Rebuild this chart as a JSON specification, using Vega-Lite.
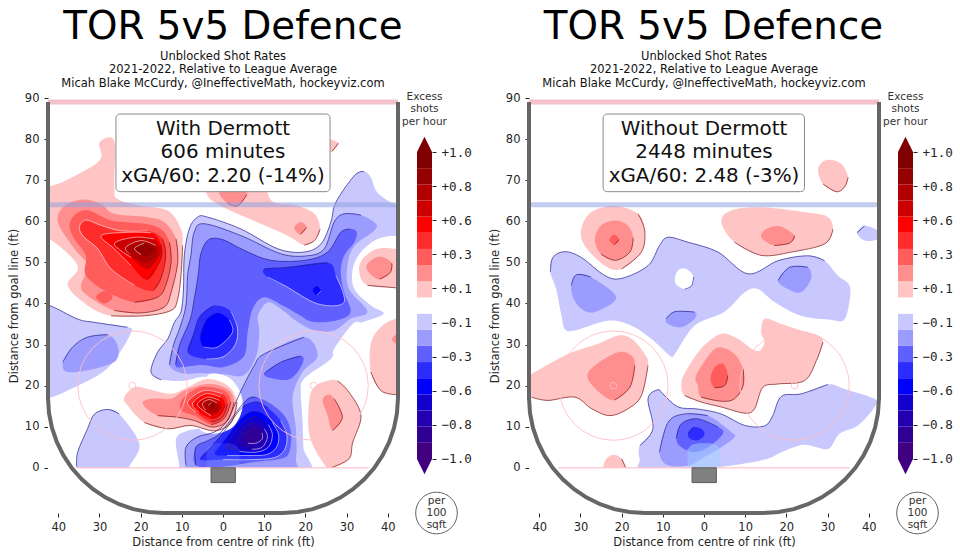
{"$schema":"https://vega.github.io/schema/vega-lite/v6.json","background":"white","padding":{"left":8,"top":7,"right":0,"bottom":0},"bounds":"flush","spacing":19,"config":{"view":{"stroke":null},"font":"DejaVu Sans","axis":{"grid":false,"domain":false,"tickColor":"#262626","tickSize":4,"labelColor":"#262626","titleColor":"#262626","labelFontSize":11.5,"titleFontSize":11.5,"titleFontWeight":"normal","labelFont":"DejaVu Sans","titleFont":"DejaVu Sans"}},
"datasets":{
"w":[
{"g":1,"l":-1,"x":-15,"y":21.4,"e":1},{"g":1,"l":-1,"x":-17.5,"y":23.3,"e":1},{"g":1,"l":-1,"x":-15.9,"y":28.1,"e":1},{"g":1,"l":-1,"x":-13.4,"y":31.4,"e":1},{"g":1,"l":-1,"x":-11.8,"y":35.4,"e":1},{"g":1,"l":-1,"x":-10.2,"y":38,"e":1},{"g":1,"l":-1,"x":-9.6,"y":43.5,"e":1},{"g":1,"l":-1,"x":-9.4,"y":51.6,"e":1},{"g":1,"l":-1,"x":-8.2,"y":58.1,"e":1},{"g":1,"l":-1,"x":-6.2,"y":61,"e":1},{"g":1,"l":-1,"x":-3.7,"y":61,"e":1},{"g":1,"l":-1,"x":4.4,"y":58.1,"e":1},{"g":1,"l":-1,"x":13.3,"y":53.3,"e":1},{"g":1,"l":-1,"x":19.7,"y":52.5,"e":1},{"g":1,"l":-1,"x":23.8,"y":54.5,"e":1},{"g":1,"l":-1,"x":26.2,"y":59.8,"e":1},{"g":1,"l":-1,"x":27.4,"y":64.6,"e":1},{"g":1,"l":-1,"x":31.9,"y":71.1,"e":1},{"g":1,"l":-1,"x":34.3,"y":72.1,"e":1},{"g":1,"l":-1,"x":35.9,"y":70.7},{"g":1,"l":-1,"x":37.5,"y":67},{"g":1,"l":-1,"x":41.6,"y":64.2},{"g":1,"l":-1,"x":46,"y":63},{"g":1,"l":-1,"x":46,"y":56.5},{"g":1,"l":-1,"x":42,"y":56.5},{"g":1,"l":-1,"x":37.5,"y":55.7},{"g":1,"l":-1,"x":33.5,"y":52.5},{"g":1,"l":-1,"x":31.5,"y":48.4},{"g":1,"l":-1,"x":31.9,"y":43.5},{"g":1,"l":-1,"x":35.9,"y":39.5},{"g":1,"l":-1,"x":39,"y":37.5},{"g":1,"l":-1,"x":34,"y":35.5},{"g":1,"l":-1,"x":31.5,"y":35},{"g":1,"l":-1,"x":27,"y":29},{"g":1,"l":-1,"x":26.2,"y":26.5},{"g":1,"l":-1,"x":19.7,"y":21.7},{"g":1,"l":-1,"x":18.9,"y":18.4},{"g":1,"l":-1,"x":19.3,"y":12},{"g":1,"l":-1,"x":19.5,"y":5},{"g":1,"l":-1,"x":19.5,"y":-2},{"g":1,"l":-1,"x":-10.6,"y":-2},{"g":1,"l":-1,"x":-10.6,"y":0.6},{"g":1,"l":-1,"x":-11.4,"y":7},{"g":1,"l":-1,"x":-8.6,"y":9},{"g":1,"l":-1,"x":-5,"y":9.8},{"g":1,"l":-1,"x":-1,"y":12},{"g":1,"l":-1,"x":0,"y":18},{"g":1,"l":-1,"x":-3.7,"y":22},{"g":1,"l":-1,"x":-9.4,"y":21.2},
{"g":2,"l":-1,"x":-46,"y":39.5,"e":1},{"g":2,"l":-1,"x":-42.2,"y":39.5,"e":1},{"g":2,"l":-1,"x":-35.3,"y":36.2,"e":1},{"g":2,"l":-1,"x":-31.2,"y":35.4,"e":1},{"g":2,"l":-1,"x":-23.2,"y":34.2,"e":1},{"g":2,"l":-1,"x":-22.3,"y":33},{"g":2,"l":-1,"x":-25.6,"y":27.3},{"g":2,"l":-1,"x":-29.6,"y":23},{"g":2,"l":-1,"x":-37.7,"y":18.8},{"g":2,"l":-1,"x":-42.2,"y":17},{"g":2,"l":-1,"x":-46,"y":17},
{"g":3,"l":-1,"x":-35.5,"y":0.2,"e":1},{"g":3,"l":-1,"x":-35.3,"y":3.8,"e":1},{"g":3,"l":-1,"x":-32.9,"y":9.5,"e":1},{"g":3,"l":-1,"x":-31.2,"y":13.1,"e":1},{"g":3,"l":-1,"x":-28,"y":14.2,"e":1},{"g":3,"l":-1,"x":-25.2,"y":13.1,"e":1},{"g":3,"l":-1,"x":-20.3,"y":5.8},{"g":3,"l":-1,"x":-22.8,"y":0.2},{"g":3,"l":-1,"x":-22.8,"y":-2},{"g":3,"l":-1,"x":-35.5,"y":-2},
{"g":4,"l":-2,"x":-38.9,"y":25.7,"e":1},{"g":4,"l":-2,"x":-36.5,"y":29.4,"e":1},{"g":4,"l":-2,"x":-32.9,"y":31.8,"e":1},{"g":4,"l":-2,"x":-28,"y":32.4,"e":1},{"g":4,"l":-2,"x":-25.6,"y":29.8},{"g":4,"l":-2,"x":-26,"y":26.1},{"g":4,"l":-2,"x":-31.2,"y":24.1},{"g":4,"l":-2,"x":-37.7,"y":23.3},
{"g":5,"l":-2,"x":-13,"y":25,"e":1},{"g":5,"l":-2,"x":-12,"y":30,"e":1},{"g":5,"l":-2,"x":-10.5,"y":34,"e":1},{"g":5,"l":-2,"x":-9,"y":39.5,"e":1},{"g":5,"l":-2,"x":-8.6,"y":46.8,"e":1},{"g":5,"l":-2,"x":-7.8,"y":51.6,"e":1},{"g":5,"l":-2,"x":-7,"y":57.3,"e":1},{"g":5,"l":-2,"x":-4.6,"y":59.4,"e":1},{"g":5,"l":-2,"x":4.4,"y":56.5,"e":1},{"g":5,"l":-2,"x":14,"y":52.1,"e":1},{"g":5,"l":-2,"x":20.5,"y":51.6,"e":1},{"g":5,"l":-2,"x":24.6,"y":53.3,"e":1},{"g":5,"l":-2,"x":27,"y":59.8,"e":1},{"g":5,"l":-2,"x":29.4,"y":61.8,"e":1},{"g":5,"l":-2,"x":33.5,"y":61.5,"e":1},{"g":5,"l":-2,"x":37.1,"y":59.4},{"g":5,"l":-2,"x":36.7,"y":57.7},{"g":5,"l":-2,"x":31.9,"y":54},{"g":5,"l":-2,"x":30.2,"y":49.2},{"g":5,"l":-2,"x":30.6,"y":43.5},{"g":5,"l":-2,"x":35.1,"y":38},{"g":5,"l":-2,"x":31,"y":36.25},{"g":5,"l":-2,"x":27,"y":33.4},{"g":5,"l":-2,"x":22.2,"y":33.4},{"g":5,"l":-2,"x":17.7,"y":35.8},{"g":5,"l":-2,"x":15,"y":38},{"g":5,"l":-2,"x":11,"y":40.3},{"g":5,"l":-2,"x":8.5,"y":37},{"g":5,"l":-2,"x":8.8,"y":33},{"g":5,"l":-2,"x":8,"y":27},{"g":5,"l":-2,"x":5,"y":22.5},{"g":5,"l":-2,"x":0,"y":22.8},{"g":5,"l":-2,"x":-5,"y":23},{"g":5,"l":-2,"x":-10,"y":23},
{"g":6,"l":-2,"x":-9,"y":0.6,"e":1},{"g":6,"l":-2,"x":-9,"y":5,"e":1},{"g":6,"l":-2,"x":-6.2,"y":7.5,"e":1},{"g":6,"l":-2,"x":-2.1,"y":8.7,"e":1},{"g":6,"l":-2,"x":1,"y":11.5,"e":1},{"g":6,"l":-2,"x":4.4,"y":18.8,"e":1},{"g":6,"l":-2,"x":7.6,"y":24.9,"e":1},{"g":6,"l":-2,"x":10,"y":27.7,"e":1},{"g":6,"l":-2,"x":19.7,"y":31.8,"e":1},{"g":6,"l":-2,"x":23,"y":27.3},{"g":6,"l":-2,"x":19.3,"y":23.3},{"g":6,"l":-2,"x":16.9,"y":17.2},{"g":6,"l":-2,"x":17.7,"y":9.5},{"g":6,"l":-2,"x":17.7,"y":2.2},{"g":6,"l":-2,"x":15.7,"y":-1},{"g":6,"l":-2,"x":-9,"y":-1},
{"g":7,"l":-3,"x":-11.5,"y":25,"e":1},{"g":7,"l":-3,"x":-10.5,"y":30,"e":1},{"g":7,"l":-3,"x":-8,"y":36,"e":1},{"g":7,"l":-3,"x":-7,"y":41,"e":1},{"g":7,"l":-3,"x":-6,"y":47,"e":1},{"g":7,"l":-3,"x":-5.4,"y":52,"e":1},{"g":7,"l":-3,"x":-3.5,"y":55.5,"e":1},{"g":7,"l":-3,"x":0,"y":55.5,"e":1},{"g":7,"l":-3,"x":5,"y":53,"e":1},{"g":7,"l":-3,"x":11.6,"y":50.5,"e":1},{"g":7,"l":-3,"x":20,"y":50.5,"e":1},{"g":7,"l":-3,"x":25.4,"y":52.5,"e":1},{"g":7,"l":-3,"x":28.6,"y":57.3,"e":1},{"g":7,"l":-3,"x":31,"y":58.1,"e":1},{"g":7,"l":-3,"x":32.5,"y":57.3},{"g":7,"l":-3,"x":31.9,"y":54.9},{"g":7,"l":-3,"x":29.4,"y":51.6},{"g":7,"l":-3,"x":28.6,"y":47.6},{"g":7,"l":-3,"x":29.4,"y":42.7},{"g":7,"l":-3,"x":31,"y":38},{"g":7,"l":-3,"x":28,"y":36},{"g":7,"l":-3,"x":22,"y":35.5},{"g":7,"l":-3,"x":18,"y":37.5},{"g":7,"l":-3,"x":14.5,"y":39.5},{"g":7,"l":-3,"x":10,"y":41.5},{"g":7,"l":-3,"x":7.2,"y":38.7},{"g":7,"l":-3,"x":6,"y":33},{"g":7,"l":-3,"x":5,"y":27},{"g":7,"l":-3,"x":0,"y":24.5},{"g":7,"l":-3,"x":-5,"y":25},{"g":7,"l":-3,"x":-10,"y":24.5},
{"g":8,"l":-3,"x":10,"y":22.9,"e":1},{"g":8,"l":-3,"x":14,"y":25.7,"e":1},{"g":8,"l":-3,"x":18.9,"y":27.2,"e":1},{"g":8,"l":-3,"x":19.3,"y":25.3},{"g":8,"l":-3,"x":16.5,"y":21.7},{"g":8,"l":-3,"x":12.4,"y":21.7},
{"g":9,"l":-3,"x":-6.6,"y":0.6,"e":1},{"g":9,"l":-3,"x":-6.6,"y":5,"e":1},{"g":9,"l":-3,"x":-3.7,"y":6.6,"e":1},{"g":9,"l":-3,"x":-0.5,"y":8.7,"e":1},{"g":9,"l":-3,"x":5.6,"y":16.4,"e":1},{"g":9,"l":-3,"x":8.4,"y":17,"e":1},{"g":9,"l":-3,"x":11.6,"y":15.6},{"g":9,"l":-3,"x":14.9,"y":12.7},{"g":9,"l":-3,"x":16.5,"y":8.7},{"g":9,"l":-3,"x":16.1,"y":3.8},{"g":9,"l":-3,"x":14,"y":2.2},{"g":9,"l":-3,"x":7.6,"y":1.4},{"g":9,"l":-3,"x":-0.5,"y":0.2},
{"g":10,"l":-4,"x":10,"y":48.4,"e":1},{"g":10,"l":-4,"x":15.7,"y":48.8,"e":1},{"g":10,"l":-4,"x":25.4,"y":49.9,"e":1},{"g":10,"l":-4,"x":27.4,"y":46.8},{"g":10,"l":-4,"x":29.4,"y":40.3},{"g":10,"l":-4,"x":23,"y":39.9},{"g":10,"l":-4,"x":14.9,"y":44.4},{"g":10,"l":-4,"x":10.8,"y":46.4},
{"g":11,"l":-4,"x":-8.5,"y":28,"e":1},{"g":11,"l":-4,"x":-7,"y":33,"e":1},{"g":11,"l":-4,"x":-5.5,"y":37,"e":1},{"g":11,"l":-4,"x":-2,"y":39.5,"e":1},{"g":11,"l":-4,"x":2,"y":38},{"g":11,"l":-4,"x":3.5,"y":34},{"g":11,"l":-4,"x":3,"y":30},{"g":11,"l":-4,"x":0,"y":27},{"g":11,"l":-4,"x":-4,"y":26.5},
{"g":12,"l":-4,"x":-5.5,"y":2,"e":1},{"g":12,"l":-4,"x":-3,"y":5,"e":1},{"g":12,"l":-4,"x":0,"y":8.5,"e":1},{"g":12,"l":-4,"x":4,"y":14,"e":1},{"g":12,"l":-4,"x":6,"y":15.5,"e":1},{"g":12,"l":-4,"x":8.5,"y":16,"e":1},{"g":12,"l":-4,"x":11,"y":14.5,"e":1},{"g":12,"l":-4,"x":14,"y":11.5},{"g":12,"l":-4,"x":15.5,"y":8},{"g":12,"l":-4,"x":15,"y":4.5},{"g":12,"l":-4,"x":12.5,"y":2.5},{"g":12,"l":-4,"x":7,"y":2},{"g":12,"l":-4,"x":0,"y":2},
{"g":13,"l":-5,"x":-5.5,"y":32,"e":1},{"g":13,"l":-5,"x":-4,"y":36,"e":1},{"g":13,"l":-5,"x":-1.3,"y":37.7,"e":1},{"g":13,"l":-5,"x":1.5,"y":36},{"g":13,"l":-5,"x":2.3,"y":33},{"g":13,"l":-5,"x":-1.3,"y":29.4},{"g":13,"l":-5,"x":-4.6,"y":29.4},
{"g":14,"l":-5,"x":21.8,"y":43.2,"e":1},{"g":14,"l":-5,"x":22.8,"y":44.2,"e":1},{"g":14,"l":-5,"x":23.8,"y":43},{"g":14,"l":-5,"x":22.8,"y":42},
{"g":15,"l":-5,"x":-2,"y":3.5,"e":1},{"g":15,"l":-5,"x":1,"y":7.5,"e":1},{"g":15,"l":-5,"x":4,"y":11.5,"e":1},{"g":15,"l":-5,"x":6.5,"y":13.5,"e":1},{"g":15,"l":-5,"x":9,"y":13.5,"e":1},{"g":15,"l":-5,"x":12,"y":11},{"g":15,"l":-5,"x":13.5,"y":8},{"g":15,"l":-5,"x":13,"y":5},{"g":15,"l":-5,"x":10.5,"y":3.2},{"g":15,"l":-5,"x":6,"y":3},{"g":15,"l":-5,"x":1,"y":3},
{"g":16,"l":-6,"x":0.5,"y":5,"e":1},{"g":16,"l":-6,"x":3,"y":9,"e":1},{"g":16,"l":-6,"x":5.5,"y":11.5,"e":1},{"g":16,"l":-6,"x":8,"y":12.5,"e":1},{"g":16,"l":-6,"x":11,"y":10.5},{"g":16,"l":-6,"x":12,"y":8},{"g":16,"l":-6,"x":11,"y":5},{"g":16,"l":-6,"x":8,"y":3.8},{"g":16,"l":-6,"x":4,"y":4},
{"g":17,"l":-7,"x":3.5,"y":6,"e":1},{"g":17,"l":-7,"x":5,"y":9.5,"e":1},{"g":17,"l":-7,"x":7.5,"y":11,"e":1},{"g":17,"l":-7,"x":10,"y":9.5},{"g":17,"l":-7,"x":10.8,"y":7.5},{"g":17,"l":-7,"x":9.5,"y":5},{"g":17,"l":-7,"x":7,"y":4.5},
{"g":18,"l":-8,"x":5,"y":7.5,"e":1},{"g":18,"l":-8,"x":6.5,"y":9.5,"e":1},{"g":18,"l":-8,"x":8,"y":9.8,"e":1},{"g":18,"l":-8,"x":9.5,"y":8.5},{"g":18,"l":-8,"x":9.5,"y":7},{"g":18,"l":-8,"x":8,"y":6},{"g":18,"l":-8,"x":6,"y":6},
{"g":19,"l":0,"x":-3.7,"y":22.5},{"g":19,"l":0,"x":1.9,"y":21.6},{"g":19,"l":0,"x":4.8,"y":16},{"g":19,"l":0,"x":2.8,"y":10.3},{"g":19,"l":0,"x":-2.1,"y":8.3},{"g":19,"l":0,"x":-6,"y":10},{"g":19,"l":0,"x":-4,"y":16},
{"g":20,"l":1,"x":-9.8,"y":54.1,"e":1},{"g":20,"l":1,"x":-10.2,"y":46.8,"e":1},{"g":20,"l":1,"x":-11,"y":41.1,"e":1},{"g":20,"l":1,"x":-12.6,"y":38.3,"e":1},{"g":20,"l":1,"x":-19.1,"y":37,"e":1},{"g":20,"l":1,"x":-27.2,"y":37,"e":1},{"g":20,"l":1,"x":-32.9,"y":39.5},{"g":20,"l":1,"x":-37.7,"y":44.4},{"g":20,"l":1,"x":-35.3,"y":49.2},{"g":20,"l":1,"x":-42.2,"y":55.7},{"g":20,"l":1,"x":-46,"y":55},{"g":20,"l":1,"x":-46,"y":66},{"g":20,"l":1,"x":-38,"y":70},{"g":20,"l":1,"x":-30,"y":74.8},{"g":20,"l":1,"x":-30,"y":79.2},{"g":20,"l":1,"x":-26.4,"y":79.6},{"g":20,"l":1,"x":-26.4,"y":68.7},{"g":20,"l":1,"x":-25.6,"y":65.4},{"g":20,"l":1,"x":-19.9,"y":63.8},{"g":20,"l":1,"x":-13.4,"y":62.6},{"g":20,"l":1,"x":-10.2,"y":58.1},
{"g":21,"l":1,"x":23.6,"y":58.1,"e":1},{"g":21,"l":1,"x":22.2,"y":55.3,"e":1},{"g":21,"l":1,"x":19.7,"y":54.2,"e":1},{"g":21,"l":1,"x":15.7,"y":56.5},{"g":21,"l":1,"x":9.2,"y":59.4},{"g":21,"l":1,"x":3.5,"y":61.8},{"g":21,"l":1,"x":-2.1,"y":64.6},{"g":21,"l":1,"x":-4.1,"y":67},{"g":21,"l":1,"x":-4,"y":70},{"g":21,"l":1,"x":10,"y":70},{"g":21,"l":1,"x":10.8,"y":67},{"g":21,"l":1,"x":12.4,"y":64.6},{"g":21,"l":1,"x":18,"y":63.8},{"g":21,"l":1,"x":22.2,"y":61.8},
{"g":22,"l":1,"x":28,"y":79,"e":1},{"g":22,"l":1,"x":26.5,"y":77,"e":1},{"g":22,"l":1,"x":25,"y":76.5},{"g":22,"l":1,"x":25,"y":80},
{"g":23,"l":1,"x":33.9,"y":50.8},{"g":23,"l":1,"x":33.1,"y":47.6},{"g":23,"l":1,"x":35.1,"y":44.4,"e":1},{"g":23,"l":1,"x":42,"y":43.8,"e":1},{"g":23,"l":1,"x":46,"y":44},{"g":23,"l":1,"x":46,"y":53},{"g":23,"l":1,"x":42,"y":53.3},{"g":23,"l":1,"x":37.5,"y":53.3},
{"g":24,"l":1,"x":42,"y":36.25},{"g":24,"l":1,"x":38.3,"y":34.2},{"g":24,"l":1,"x":35.9,"y":30.2},{"g":24,"l":1,"x":35.9,"y":23.3,"e":1},{"g":24,"l":1,"x":38.3,"y":18.8,"e":1},{"g":24,"l":1,"x":42,"y":17.8,"e":1},{"g":24,"l":1,"x":46,"y":18},{"g":24,"l":1,"x":46,"y":36},
{"g":25,"l":1,"x":27.8,"y":21.2,"e":1},{"g":25,"l":1,"x":30.6,"y":18.4,"e":1},{"g":25,"l":1,"x":33.5,"y":12.7,"e":1},{"g":25,"l":1,"x":31.5,"y":6.2,"e":1},{"g":25,"l":1,"x":30.6,"y":2.2,"e":1},{"g":25,"l":1,"x":26.2,"y":0,"e":1},{"g":25,"l":1,"x":24.2,"y":1.4},{"g":25,"l":1,"x":21,"y":7.9},{"g":25,"l":1,"x":21,"y":16.8},{"g":25,"l":1,"x":22.6,"y":20},{"g":25,"l":1,"x":25.4,"y":21.2},
{"g":26,"l":1,"x":3.4,"y":16,"e":1},{"g":26,"l":1,"x":2,"y":11,"e":1},{"g":26,"l":1,"x":-2.1,"y":9,"e":1},{"g":26,"l":1,"x":-7.8,"y":10.3,"e":1},{"g":26,"l":1,"x":-13.4,"y":9.5,"e":1},{"g":26,"l":1,"x":-19.1,"y":11,"e":1},{"g":26,"l":1,"x":-23.2,"y":15.2},{"g":26,"l":1,"x":-24,"y":17.2},{"g":26,"l":1,"x":-21.5,"y":19.6},{"g":26,"l":1,"x":-18.3,"y":19.2},{"g":26,"l":1,"x":-12.6,"y":18},{"g":26,"l":1,"x":-8.6,"y":19.6},{"g":26,"l":1,"x":-3.7,"y":21.6},{"g":26,"l":1,"x":1.1,"y":20},
{"g":27,"l":2,"x":-11.4,"y":55.7,"e":1},{"g":27,"l":2,"x":-11,"y":50,"e":1},{"g":27,"l":2,"x":-12.6,"y":42.7,"e":1},{"g":27,"l":2,"x":-14.3,"y":39.1,"e":1},{"g":27,"l":2,"x":-19.9,"y":37.7,"e":1},{"g":27,"l":2,"x":-26.4,"y":38.3,"e":1},{"g":27,"l":2,"x":-32.9,"y":41.9},{"g":27,"l":2,"x":-34.5,"y":44.4},{"g":27,"l":2,"x":-32.9,"y":49.2},{"g":27,"l":2,"x":-36.1,"y":53.3},{"g":27,"l":2,"x":-40.1,"y":59.8},{"g":27,"l":2,"x":-38.5,"y":63.8},{"g":27,"l":2,"x":-33.7,"y":65.3},{"g":27,"l":2,"x":-29.6,"y":64.2},{"g":27,"l":2,"x":-26.4,"y":61.8},{"g":27,"l":2,"x":-18.3,"y":61},{"g":27,"l":2,"x":-14.3,"y":59.8},
{"g":28,"l":2,"x":5.8,"y":66.5,"e":1},{"g":28,"l":2,"x":3.5,"y":63.7,"e":1},{"g":28,"l":2,"x":1,"y":64.5,"e":1},{"g":28,"l":2,"x":-1,"y":67},{"g":28,"l":2,"x":0,"y":69},{"g":28,"l":2,"x":5,"y":69},
{"g":29,"l":2,"x":20.3,"y":58.5,"e":1},{"g":29,"l":2,"x":18.8,"y":56.8,"e":1},{"g":29,"l":2,"x":17.3,"y":58.3},{"g":29,"l":2,"x":18.8,"y":59.8},
{"g":30,"l":2,"x":41,"y":49.8,"e":1},{"g":30,"l":2,"x":40.6,"y":47.5,"e":1},{"g":30,"l":2,"x":38,"y":45.9,"e":1},{"g":30,"l":2,"x":35.5,"y":47.5},{"g":30,"l":2,"x":35,"y":49.5},{"g":30,"l":2,"x":38,"y":51.4},
{"g":31,"l":2,"x":41,"y":31.2},{"g":31,"l":2,"x":43,"y":33},{"g":31,"l":2,"x":43,"y":30},
{"g":32,"l":2,"x":27,"y":16.8,"e":1},{"g":32,"l":2,"x":29,"y":12.3,"e":1},{"g":32,"l":2,"x":26.6,"y":9.1,"e":1},{"g":32,"l":2,"x":25.4,"y":12.7},{"g":32,"l":2,"x":24.2,"y":16.4},{"g":32,"l":2,"x":25.4,"y":17.8},
{"g":33,"l":2,"x":2.7,"y":16,"e":1},{"g":33,"l":2,"x":1.1,"y":11.5,"e":1},{"g":33,"l":2,"x":-2.5,"y":9.9,"e":1},{"g":33,"l":2,"x":-7,"y":11.5,"e":1},{"g":33,"l":2,"x":-11,"y":12.3,"e":1},{"g":33,"l":2,"x":-15.9,"y":12.7,"e":1},{"g":33,"l":2,"x":-19.5,"y":15.6},{"g":33,"l":2,"x":-17.5,"y":16.8},{"g":33,"l":2,"x":-12.6,"y":16.8},{"g":33,"l":2,"x":-9.4,"y":18.8},{"g":33,"l":2,"x":-3.7,"y":20.4},{"g":33,"l":2,"x":1.1,"y":19.2},
{"g":34,"l":3,"x":-13,"y":54.9,"e":1},{"g":34,"l":3,"x":-12.6,"y":50,"e":1},{"g":34,"l":3,"x":-13.9,"y":44.4,"e":1},{"g":34,"l":3,"x":-15.9,"y":41.5,"e":1},{"g":34,"l":3,"x":-21.5,"y":40.3,"e":1},{"g":34,"l":3,"x":-28,"y":42.7},{"g":34,"l":3,"x":-33.3,"y":46.8},{"g":34,"l":3,"x":-33.3,"y":51.6},{"g":34,"l":3,"x":-36.1,"y":55.7},{"g":34,"l":3,"x":-37.3,"y":59},{"g":34,"l":3,"x":-35.7,"y":61.8},{"g":34,"l":3,"x":-32.5,"y":62.6},{"g":34,"l":3,"x":-27.2,"y":60.2},{"g":34,"l":3,"x":-19.1,"y":59.4},{"g":34,"l":3,"x":-15.1,"y":58.1},
{"g":35,"l":3,"x":-26.8,"y":41.5,"e":1},{"g":35,"l":3,"x":-28.8,"y":40},{"g":35,"l":3,"x":-30.8,"y":41.5},{"g":35,"l":3,"x":-28.8,"y":43},
{"g":36,"l":3,"x":1.9,"y":16,"e":1},{"g":36,"l":3,"x":0.3,"y":12,"e":1},{"g":36,"l":3,"x":-2.9,"y":10.5,"e":1},{"g":36,"l":3,"x":-7,"y":12.7},{"g":36,"l":3,"x":-10.2,"y":14},{"g":36,"l":3,"x":-9.8,"y":16.8},{"g":36,"l":3,"x":-5.4,"y":19.6},{"g":36,"l":3,"x":0.3,"y":18.8},
{"g":37,"l":4,"x":-14.7,"y":55.7,"e":1},{"g":37,"l":4,"x":-13.9,"y":51.6,"e":1},{"g":37,"l":4,"x":-15.1,"y":46,"e":1},{"g":37,"l":4,"x":-17.1,"y":43.1,"e":1},{"g":37,"l":4,"x":-21.5,"y":44.4},{"g":37,"l":4,"x":-27.2,"y":48.4},{"g":37,"l":4,"x":-30.4,"y":53.3},{"g":37,"l":4,"x":-33.7,"y":56.1},{"g":37,"l":4,"x":-34.9,"y":58.5},{"g":37,"l":4,"x":-33.3,"y":60.3},{"g":37,"l":4,"x":-29.6,"y":59},{"g":37,"l":4,"x":-24.8,"y":57.7},{"g":37,"l":4,"x":-18.3,"y":57.7},
{"g":38,"l":4,"x":1.1,"y":15.6,"e":1},{"g":38,"l":4,"x":-0.1,"y":12.3,"e":1},{"g":38,"l":4,"x":-2.9,"y":11.1,"e":1},{"g":38,"l":4,"x":-6.6,"y":13.6},{"g":38,"l":4,"x":-8.6,"y":16},{"g":38,"l":4,"x":-4.6,"y":18.8},{"g":38,"l":4,"x":-0.1,"y":18},
{"g":39,"l":5,"x":-15.1,"y":54.5,"e":1},{"g":39,"l":5,"x":-15.1,"y":50.8,"e":1},{"g":39,"l":5,"x":-18.3,"y":45.8,"e":1},{"g":39,"l":5,"x":-22.3,"y":49.2},{"g":39,"l":5,"x":-26.4,"y":53.3},{"g":39,"l":5,"x":-29.6,"y":56.5},{"g":39,"l":5,"x":-23.2,"y":57.3},{"g":39,"l":5,"x":-17.5,"y":57.2},
{"g":40,"l":5,"x":0.5,"y":15.2,"e":1},{"g":40,"l":5,"x":-0.9,"y":12.7,"e":1},{"g":40,"l":5,"x":-2.9,"y":12,"e":1},{"g":40,"l":5,"x":-5.8,"y":13.5},{"g":40,"l":5,"x":-7.4,"y":15.6},{"g":40,"l":5,"x":-4.2,"y":18},{"g":40,"l":5,"x":-0.5,"y":17.2},
{"g":41,"l":6,"x":-15.2,"y":52.5,"e":1},{"g":41,"l":6,"x":-18.3,"y":48.4,"e":1},{"g":41,"l":6,"x":-22.3,"y":51.2},{"g":41,"l":6,"x":-26.4,"y":54.5},{"g":41,"l":6,"x":-21.5,"y":56.1},{"g":41,"l":6,"x":-16.7,"y":55.7},
{"g":42,"l":6,"x":-0.4,"y":14.8,"e":1},{"g":42,"l":6,"x":-1.7,"y":13.1,"e":1},{"g":42,"l":6,"x":-2.9,"y":12.7},{"g":42,"l":6,"x":-4.9,"y":14},{"g":42,"l":6,"x":-6.2,"y":15.6},{"g":42,"l":6,"x":-3.7,"y":17.2},{"g":42,"l":6,"x":-0.9,"y":16.4},
{"g":43,"l":7,"x":-16.3,"y":51.6,"e":1},{"g":43,"l":7,"x":-19.1,"y":50,"e":1},{"g":43,"l":7,"x":-22.7,"y":52},{"g":43,"l":7,"x":-23.6,"y":53.7},{"g":43,"l":7,"x":-19.9,"y":55.3},{"g":43,"l":7,"x":-16.3,"y":54.1},
{"g":44,"l":7,"x":-1,"y":14.6,"e":1},{"g":44,"l":7,"x":-2.4,"y":13.4,"e":1},{"g":44,"l":7,"x":-4.2,"y":14},{"g":44,"l":7,"x":-5,"y":15.6},{"g":44,"l":7,"x":-3.4,"y":16.6},{"g":44,"l":7,"x":-1.5,"y":15.8},
{"g":45,"l":8,"x":-16.8,"y":53.4,"e":1},{"g":45,"l":8,"x":-17.9,"y":51.6,"e":1},{"g":45,"l":8,"x":-19.9,"y":51.9},{"g":45,"l":8,"x":-21.5,"y":53.4},{"g":45,"l":8,"x":-19.1,"y":54.7},
{"g":46,"l":8,"x":-2,"y":15,"e":1},{"g":46,"l":8,"x":-2.7,"y":14.2,"e":1},{"g":46,"l":8,"x":-3.6,"y":15.2},{"g":46,"l":8,"x":-2.8,"y":15.9}
],
"o":[
{"g":1,"l":-1,"x":-37.3,"y":47.6,"e":1},{"g":1,"l":-1,"x":-36.7,"y":51.2,"e":1},{"g":1,"l":-1,"x":-33.8,"y":52.6,"e":1},{"g":1,"l":-1,"x":-29.8,"y":51.2,"e":1},{"g":1,"l":-1,"x":-24.1,"y":46.8,"e":1},{"g":1,"l":-1,"x":-20,"y":46.1,"e":1},{"g":1,"l":-1,"x":-13.6,"y":49.2,"e":1},{"g":1,"l":-1,"x":-10.8,"y":54.1,"e":1},{"g":1,"l":-1,"x":-8.7,"y":56.1,"e":1},{"g":1,"l":-1,"x":-3.9,"y":54.9,"e":1},{"g":1,"l":-1,"x":3.4,"y":52.5,"e":1},{"g":1,"l":-1,"x":10.7,"y":47.2,"e":1},{"g":1,"l":-1,"x":18,"y":50.4,"e":1},{"g":1,"l":-1,"x":25.2,"y":51.6,"e":1},{"g":1,"l":-1,"x":29.3,"y":50.4,"e":1},{"g":1,"l":-1,"x":32.5,"y":46.8},{"g":1,"l":-1,"x":35.3,"y":44.4},{"g":1,"l":-1,"x":35.3,"y":40.3},{"g":1,"l":-1,"x":34,"y":36},{"g":1,"l":-1,"x":31,"y":36},{"g":1,"l":-1,"x":23.6,"y":37},{"g":1,"l":-1,"x":17.2,"y":40.3},{"g":1,"l":-1,"x":13.1,"y":43.5},{"g":1,"l":-1,"x":9.9,"y":42.7},{"g":1,"l":-1,"x":5,"y":38},{"g":1,"l":-1,"x":-2.3,"y":34.6},{"g":1,"l":-1,"x":-7.1,"y":27.7},{"g":1,"l":-1,"x":-8.3,"y":27.3},{"g":1,"l":-1,"x":-12.8,"y":31.4},{"g":1,"l":-1,"x":-17.6,"y":34.6},{"g":1,"l":-1,"x":-23.3,"y":35.8},{"g":1,"l":-1,"x":-31.4,"y":33.4},{"g":1,"l":-1,"x":-33.8,"y":33.8},{"g":1,"l":-1,"x":-34.6,"y":37},{"g":1,"l":-1,"x":-35.9,"y":43.5},
{"g":2,"l":-1,"x":37.2,"y":57.2,"e":1},{"g":2,"l":-1,"x":39,"y":58.9,"e":1},{"g":2,"l":-1,"x":42.2,"y":57.7},{"g":2,"l":-1,"x":42.2,"y":55.7},{"g":2,"l":-1,"x":39,"y":55.3},
{"g":3,"l":-1,"x":-15.6,"y":5.4,"e":1},{"g":3,"l":-1,"x":-12.4,"y":9.5,"e":1},{"g":3,"l":-1,"x":-13.6,"y":16.8,"e":1},{"g":3,"l":-1,"x":-11.2,"y":19,"e":1},{"g":3,"l":-1,"x":-10,"y":18,"e":1},{"g":3,"l":-1,"x":-6.3,"y":14.8,"e":1},{"g":3,"l":-1,"x":-1.5,"y":14.3,"e":1},{"g":3,"l":-1,"x":4.2,"y":13.1,"e":1},{"g":3,"l":-1,"x":9.9,"y":10.3,"e":1},{"g":3,"l":-1,"x":14.7,"y":10.2,"e":1},{"g":3,"l":-1,"x":16.7,"y":12.7,"e":1},{"g":3,"l":-1,"x":18.8,"y":17.4,"e":1},{"g":3,"l":-1,"x":23.6,"y":18,"e":1},{"g":3,"l":-1,"x":30.1,"y":20.3,"e":1},{"g":3,"l":-1,"x":34.1,"y":19.2},{"g":3,"l":-1,"x":41.4,"y":16.8},{"g":3,"l":-1,"x":41.4,"y":14.8},{"g":3,"l":-1,"x":37.4,"y":10.3},{"g":3,"l":-1,"x":32.9,"y":8.3},{"g":3,"l":-1,"x":30.1,"y":4.6},{"g":3,"l":-1,"x":24.4,"y":5.6},{"g":3,"l":-1,"x":18.8,"y":3.8},{"g":3,"l":-1,"x":14.7,"y":2},{"g":3,"l":-1,"x":3.4,"y":0.2},{"g":3,"l":-1,"x":-14.5,"y":-1},{"g":3,"l":-1,"x":-15.6,"y":2},
{"g":4,"l":-2,"x":-32.2,"y":44.4,"e":1},{"g":4,"l":-2,"x":-31,"y":47,"e":1},{"g":4,"l":-2,"x":-27.4,"y":46.4,"e":1},{"g":4,"l":-2,"x":-21.3,"y":41.5},{"g":4,"l":-2,"x":-26.5,"y":37.9},{"g":4,"l":-2,"x":-29.8,"y":38.7},{"g":4,"l":-2,"x":-31.8,"y":41.5},
{"g":5,"l":-2,"x":-9.2,"y":36.2,"e":1},{"g":5,"l":-2,"x":-7.1,"y":38,"e":1},{"g":5,"l":-2,"x":-2.3,"y":37.9,"e":1},{"g":5,"l":-2,"x":-2.3,"y":36.2},{"g":5,"l":-2,"x":-5.5,"y":34.2},{"g":5,"l":-2,"x":-8.7,"y":35},
{"g":6,"l":-2,"x":18,"y":45.6,"e":1},{"g":6,"l":-2,"x":20.8,"y":48.8,"e":1},{"g":6,"l":-2,"x":25.2,"y":48.8,"e":1},{"g":6,"l":-2,"x":26,"y":46},{"g":6,"l":-2,"x":23.6,"y":42.7},{"g":6,"l":-2,"x":20.4,"y":43.5},
{"g":7,"l":-2,"x":-10.8,"y":3.8,"e":1},{"g":7,"l":-2,"x":-8.7,"y":11.1,"e":1},{"g":7,"l":-2,"x":-4.7,"y":13.1,"e":1},{"g":7,"l":-2,"x":0.9,"y":12.7,"e":1},{"g":7,"l":-2,"x":6.6,"y":8.7},{"g":7,"l":-2,"x":7.4,"y":7.5},{"g":7,"l":-2,"x":4.2,"y":5},{"g":7,"l":-2,"x":-0.65,"y":2.2},{"g":7,"l":-2,"x":-3.5,"y":0.6},{"g":7,"l":-2,"x":-8.7,"y":0.6},
{"g":8,"l":-3,"x":-6.7,"y":7.1,"e":1},{"g":8,"l":-3,"x":-5.5,"y":10.7,"e":1},{"g":8,"l":-3,"x":-1.5,"y":11.9,"e":1},{"g":8,"l":-3,"x":3.4,"y":9.9,"e":1},{"g":8,"l":-3,"x":4.6,"y":8.3},{"g":8,"l":-3,"x":1,"y":5},{"g":8,"l":-3,"x":-2.3,"y":3.8},{"g":8,"l":-3,"x":-5.5,"y":5},
{"g":9,"l":-4,"x":-3.9,"y":8.3,"e":1},{"g":9,"l":-4,"x":-2.5,"y":9.9,"e":1},{"g":9,"l":-4,"x":-0.5,"y":9.4},{"g":9,"l":-4,"x":0.1,"y":8},{"g":9,"l":-4,"x":-1.5,"y":6.7},{"g":9,"l":-4,"x":-3.3,"y":7},
{"g":10,"l":0,"x":-2.5,"y":46.5,"e":1},{"g":10,"l":0,"x":-3,"y":44.3,"e":1},{"g":10,"l":0,"x":-4.7,"y":43.5,"e":1},{"g":10,"l":0,"x":-7,"y":45},{"g":10,"l":0,"x":-6.5,"y":47.8},{"g":10,"l":0,"x":-4.5,"y":48.5},
{"g":11,"l":1,"x":-16,"y":61.8,"e":1},{"g":11,"l":1,"x":-14.4,"y":57.7,"e":1},{"g":11,"l":1,"x":-15.2,"y":52.5,"e":1},{"g":11,"l":1,"x":-20,"y":48.4,"e":1},{"g":11,"l":1,"x":-24.1,"y":49.2},{"g":11,"l":1,"x":-29,"y":54.1},{"g":11,"l":1,"x":-29.8,"y":58.1},{"g":11,"l":1,"x":-27.4,"y":62.2},{"g":11,"l":1,"x":-21.7,"y":63.7},
{"g":12,"l":1,"x":31.3,"y":58.1,"e":1},{"g":12,"l":1,"x":29.3,"y":54.5,"e":1},{"g":12,"l":1,"x":21.2,"y":52.5,"e":1},{"g":12,"l":1,"x":13.9,"y":51.7,"e":1},{"g":12,"l":1,"x":7.4,"y":54.9,"e":1},{"g":12,"l":1,"x":4.2,"y":59.8},{"g":12,"l":1,"x":6.6,"y":62.6},{"g":12,"l":1,"x":13.9,"y":63.4},{"g":12,"l":1,"x":26,"y":62},{"g":12,"l":1,"x":30.1,"y":61},
{"g":13,"l":1,"x":35,"y":70.7,"e":1},{"g":13,"l":1,"x":34.1,"y":68.3,"e":1},{"g":13,"l":1,"x":32.1,"y":67.2,"e":1},{"g":13,"l":1,"x":28.9,"y":69.1,"e":1},{"g":13,"l":1,"x":27.7,"y":72.7},{"g":13,"l":1,"x":29.7,"y":74.9},{"g":13,"l":1,"x":33.3,"y":74},
{"g":14,"l":1,"x":-20,"y":2.2,"e":1},{"g":14,"l":1,"x":-19,"y":0,"e":1},{"g":14,"l":1,"x":-19,"y":-2},{"g":14,"l":1,"x":-24.5,"y":-2},{"g":14,"l":1,"x":-24.5,"y":0.2},{"g":14,"l":1,"x":-23.7,"y":2.2},{"g":14,"l":1,"x":-21.9,"y":3.2},
{"g":15,"l":1,"x":-13.6,"y":24.9,"e":1},{"g":15,"l":1,"x":-15.2,"y":17.6,"e":1},{"g":15,"l":1,"x":-18.4,"y":14.4,"e":1},{"g":15,"l":1,"x":-22.9,"y":12.7,"e":1},{"g":15,"l":1,"x":-27.3,"y":14.4,"e":1},{"g":15,"l":1,"x":-31.4,"y":17.2,"e":1},{"g":15,"l":1,"x":-37.9,"y":16.4,"e":1},{"g":15,"l":1,"x":-41.9,"y":17.2,"e":1},{"g":15,"l":1,"x":-46,"y":17},{"g":15,"l":1,"x":-46,"y":21},{"g":15,"l":1,"x":-41.9,"y":22.9},{"g":15,"l":1,"x":-33,"y":27.7},{"g":15,"l":1,"x":-25.7,"y":30.2},{"g":15,"l":1,"x":-20.9,"y":32.2},{"g":15,"l":1,"x":-17.6,"y":31.4},{"g":15,"l":1,"x":-14.4,"y":27.7},
{"g":16,"l":1,"x":28.9,"y":30.6,"e":1},{"g":16,"l":1,"x":27.3,"y":26.1,"e":1},{"g":16,"l":1,"x":24.4,"y":21.2,"e":1},{"g":16,"l":1,"x":18,"y":20.4,"e":1},{"g":16,"l":1,"x":14.3,"y":19.6,"e":1},{"g":16,"l":1,"x":12.3,"y":14.4,"e":1},{"g":16,"l":1,"x":9.9,"y":13.3,"e":1},{"g":16,"l":1,"x":4.2,"y":14.8,"e":1},{"g":16,"l":1,"x":-0.7,"y":16,"e":1},{"g":16,"l":1,"x":-4.7,"y":17.6,"e":1},{"g":16,"l":1,"x":-5.5,"y":20},{"g":16,"l":1,"x":-4.7,"y":23},{"g":16,"l":1,"x":-0.7,"y":29},{"g":16,"l":1,"x":4.2,"y":32.6},{"g":16,"l":1,"x":8.2,"y":31.4},{"g":16,"l":1,"x":11.5,"y":29},{"g":16,"l":1,"x":13.5,"y":28.5},{"g":16,"l":1,"x":14.7,"y":30.6},{"g":16,"l":1,"x":13.9,"y":33},{"g":16,"l":1,"x":14.7,"y":36.25},{"g":16,"l":1,"x":18.8,"y":35},{"g":16,"l":1,"x":23.6,"y":33.4},{"g":16,"l":1,"x":27.7,"y":32.2},
{"g":17,"l":2,"x":-17.2,"y":56,"e":1},{"g":17,"l":2,"x":-18,"y":52.5,"e":1},{"g":17,"l":2,"x":-21.5,"y":50.5,"e":1},{"g":17,"l":2,"x":-25,"y":52,"e":1},{"g":17,"l":2,"x":-26.5,"y":55.5},{"g":17,"l":2,"x":-25,"y":59},{"g":17,"l":2,"x":-21.5,"y":60.2},{"g":17,"l":2,"x":-18.5,"y":59},
{"g":18,"l":2,"x":22,"y":56.5,"e":1},{"g":18,"l":2,"x":20.8,"y":54.7,"e":1},{"g":18,"l":2,"x":17.1,"y":54.1,"e":1},{"g":18,"l":2,"x":13.9,"y":56.1},{"g":18,"l":2,"x":15.1,"y":58.1},{"g":18,"l":2,"x":18.4,"y":58.8},
{"g":19,"l":2,"x":-16.8,"y":24.9,"e":1},{"g":19,"l":2,"x":-18,"y":19.6,"e":1},{"g":19,"l":2,"x":-21.7,"y":16.5,"e":1},{"g":19,"l":2,"x":-25,"y":18},{"g":19,"l":2,"x":-28.3,"y":22},{"g":19,"l":2,"x":-26.5,"y":24.9},{"g":19,"l":2,"x":-20.9,"y":28.1},{"g":19,"l":2,"x":-17.6,"y":27.3},
{"g":20,"l":2,"x":9.5,"y":24.1,"e":1},{"g":20,"l":2,"x":9.5,"y":20,"e":1},{"g":20,"l":2,"x":7.4,"y":16.8,"e":1},{"g":20,"l":2,"x":4.2,"y":16.2,"e":1},{"g":20,"l":2,"x":-0.65,"y":17.2,"e":1},{"g":20,"l":2,"x":-1.5,"y":20},{"g":20,"l":2,"x":-1.9,"y":22.5},{"g":20,"l":2,"x":1.8,"y":28.1},{"g":20,"l":2,"x":4.2,"y":29.3},{"g":20,"l":2,"x":7.4,"y":27.7},
{"g":21,"l":3,"x":-20.6,"y":55.5,"e":1},{"g":21,"l":3,"x":-21.8,"y":54.3,"e":1},{"g":21,"l":3,"x":-23,"y":55.5},{"g":21,"l":3,"x":-21.8,"y":56.7},
{"g":22,"l":3,"x":5.8,"y":22.5,"e":1},{"g":22,"l":3,"x":5,"y":20,"e":1},{"g":22,"l":3,"x":2.6,"y":19.5,"e":1},{"g":22,"l":3,"x":1.6,"y":21.7},{"g":22,"l":3,"x":2.6,"y":24.5},{"g":22,"l":3,"x":4.6,"y":25.3}
],
"r":[
{"k":"a","x":-42.5,"y":17},{"k":"a","x":-42.26,"y":13.35},{"k":"a","x":-41.55,"y":9.75},{"k":"a","x":-40.37,"y":6.28},{"k":"a","x":-38.75,"y":3},{"k":"a","x":-36.72,"y":-0.05},{"k":"a","x":-34.3,"y":-2.8},{"k":"a","x":-31.55,"y":-5.22},{"k":"a","x":-28.5,"y":-7.25},{"k":"a","x":-25.22,"y":-8.87},{"k":"a","x":-21.75,"y":-10.05},{"k":"a","x":-18.15,"y":-10.76},{"k":"a","x":-14.5,"y":-11},{"k":"a","x":-42.5,"y":-11},
{"k":"b","x":42.5,"y":17},{"k":"b","x":42.26,"y":13.35},{"k":"b","x":41.55,"y":9.75},{"k":"b","x":40.37,"y":6.28},{"k":"b","x":38.75,"y":3},{"k":"b","x":36.72,"y":-0.05},{"k":"b","x":34.3,"y":-2.8},{"k":"b","x":31.55,"y":-5.22},{"k":"b","x":28.5,"y":-7.25},{"k":"b","x":25.22,"y":-8.87},{"k":"b","x":21.75,"y":-10.05},{"k":"b","x":18.15,"y":-10.76},{"k":"b","x":14.5,"y":-11},{"k":"b","x":42.5,"y":-11},
{"k":"c","x":-43,"y":0},{"k":"c","x":43,"y":0},{"k":"c","x":43,"y":-11},{"k":"c","x":-43,"y":-11},
{"k":"d","x":-4,"y":0},{"k":"d","x":-4,"y":4.5},{"k":"d","x":-3,"y":5.6},{"k":"d","x":-1.5,"y":6},{"k":"d","x":1.5,"y":6},{"k":"d","x":3,"y":5.6},{"k":"d","x":4,"y":4.5},{"k":"d","x":4,"y":0},
{"k":"w","x":-42.5,"y":89},{"k":"w","x":-42.5,"y":17},{"k":"w","x":-42.26,"y":13.35},{"k":"w","x":-41.55,"y":9.75},{"k":"w","x":-40.37,"y":6.28},{"k":"w","x":-38.75,"y":3},{"k":"w","x":-36.72,"y":-0.05},{"k":"w","x":-34.3,"y":-2.8},{"k":"w","x":-31.55,"y":-5.22},{"k":"w","x":-28.5,"y":-7.25},{"k":"w","x":-25.22,"y":-8.87},{"k":"w","x":-21.75,"y":-10.05},{"k":"w","x":-18.15,"y":-10.76},{"k":"w","x":-14.5,"y":-11},{"k":"w","x":14.5,"y":-11},{"k":"w","x":18.15,"y":-10.76},{"k":"w","x":21.75,"y":-10.05},{"k":"w","x":25.22,"y":-8.87},{"k":"w","x":28.5,"y":-7.25},{"k":"w","x":31.55,"y":-5.22},{"k":"w","x":34.3,"y":-2.8},{"k":"w","x":36.72,"y":-0.05},{"k":"w","x":38.75,"y":3},{"k":"w","x":40.37,"y":6.28},{"k":"w","x":41.55,"y":9.75},{"k":"w","x":42.26,"y":13.35},{"k":"w","x":42.5,"y":17},{"k":"w","x":42.5,"y":89}
],
"bars":[{"l":-9,"a":0,"b":1,"v0":-1,"v1":-0.8947},{"l":-8,"a":0,"b":1,"v0":-0.8947,"v1":-0.7895},{"l":-7,"a":0,"b":1,"v0":-0.7895,"v1":-0.6842},{"l":-6,"a":0,"b":1,"v0":-0.6842,"v1":-0.5789},{"l":-5,"a":0,"b":1,"v0":-0.5789,"v1":-0.4737},{"l":-4,"a":0,"b":1,"v0":-0.4737,"v1":-0.3684},{"l":-3,"a":0,"b":1,"v0":-0.3684,"v1":-0.2632},{"l":-2,"a":0,"b":1,"v0":-0.2632,"v1":-0.1579},{"l":-1,"a":0,"b":1,"v0":-0.1579,"v1":-0.0526},{"l":0,"a":0,"b":1,"v0":-0.0526,"v1":0.0526},{"l":1,"a":0,"b":1,"v0":0.0526,"v1":0.1579},{"l":2,"a":0,"b":1,"v0":0.1579,"v1":0.2632},{"l":3,"a":0,"b":1,"v0":0.2632,"v1":0.3684},{"l":4,"a":0,"b":1,"v0":0.3684,"v1":0.4737},{"l":5,"a":0,"b":1,"v0":0.4737,"v1":0.5789},{"l":6,"a":0,"b":1,"v0":0.5789,"v1":0.6842},{"l":7,"a":0,"b":1,"v0":0.6842,"v1":0.7895},{"l":8,"a":0,"b":1,"v0":0.7895,"v1":0.8947},{"l":9,"a":0,"b":1,"v0":0.8947,"v1":1}],
"caps":[{"g":"u","l":9,"a":0,"v":1},{"g":"u","l":9,"a":0.5,"v":1.1},{"g":"u","l":9,"a":1,"v":1},{"g":"d","l":-9,"a":0,"v":-1},{"g":"d","l":-9,"a":0.5,"v":-1.1},{"g":"d","l":-9,"a":1,"v":-1}],
"cbt":[{"a":0.5,"v":1.358,"t":"Excess"},{"a":0.5,"v":1.28,"t":"shots"},{"a":0.5,"v":1.195,"t":"per hour"},{"a":1.3,"v":-1.273,"t":"per"},{"a":1.3,"v":-1.352,"t":"100"},{"a":1.3,"v":-1.43,"t":"sqft"}],
"sub":[{"x":0,"y":100,"t":"Unblocked Shot Rates"},{"x":0,"y":96.8,"t":"2021-2022, Relative to League Average"},{"x":0,"y":93.4,"t":"Micah Blake McCurdy, @IneffectiveMath, hockeyviz.com"}]
},
"hconcat":[
{"width":350,"height":415,"encoding":{"x":{"field":"x","type":"quantitative","scale":{"domain":[-42.5,42.5],"nice":false,"zero":false},"axis":{"values":[-40,-30,-20,-10,0,10,20,30,40],"labelExpr":"abs(datum.value)","labelPadding":4,"title":"Distance from centre of rink (ft)"}},"y":{"field":"y","type":"quantitative","scale":{"domain":[-11,90],"nice":false,"zero":false},"axis":{"values":[0,10,20,30,40,50,60,70,80,90],"labelPadding":5,"titlePadding":5,"title":"Distance from goal line (ft)"}}},
"layer":[
{"data":{"name":"w"},"mark":{"type":"line","interpolate":"cardinal-closed","clip":true,"stroke":null},"encoding":{"detail":{"field":"g"},"order":{"value":null},"fill":{"field":"l","type":"ordinal","legend":null,"scale":{"domain":[-9,-8,-7,-6,-5,-4,-3,-2,-1,0,1,2,3,4,5,6,7,8,9],"range":["#40007f","#300095","#2200b0","#1400cc","#0000ff","#2c2cff","#6060ff","#9c9cff","#c8c8ff","#ffffff","#ffc4c4","#ff8f8f","#ff5c5c","#ff2c2c","#ff0000","#cc0000","#b00000","#950000","#7f0000"]}}}},
{"data":{"name":"w"},"transform":[{"filter":"datum.e==1"}],"mark":{"type":"line","interpolate":"cardinal","clip":true,"strokeWidth":1,"opacity":0.7},"encoding":{"detail":{"field":"g"},"order":{"value":null},"stroke":{"condition":{"test":"datum.l>0","value":"#7a1414"},"value":"#20208f"}}},
{"data":{"name":"w"},"transform":[{"filter":"datum.e!=1&&(datum.l>=4||datum.l<=-4)"}],"mark":{"type":"line","interpolate":"cardinal","clip":true,"strokeWidth":0.8,"opacity":0.7,"stroke":"white"},"encoding":{"detail":{"field":"g"},"order":{"value":null}}},
{"data":{"name":"r"},"transform":[{"filter":"indexof(['a','b','c'],datum.k)>=0"}],"mark":{"type":"line","interpolate":"linear-closed","clip":true,"stroke":null,"fill":"white"},"encoding":{"detail":{"field":"k"},"order":{"value":null}}},
{"data":{"name":"r"},"transform":[{"filter":"datum.k=='d'"}],"mark":{"type":"line","interpolate":"linear-closed","stroke":null,"fill":"#9fd0ff","opacity":0.15},"encoding":{"order":{"value":null}}},
{"data":{"values":[{"x":-35.5,"x2":35.5,"y":0}]},"mark":{"type":"rule","stroke":"#ffc0cb","strokeWidth":1.5,"opacity":0.8},"encoding":{"x2":{"field":"x2"}}},
{"data":{"values":[{"x":-42.5,"x2":42.5,"y":89}]},"mark":{"type":"rule","stroke":"#f4c2cc","strokeWidth":5},"encoding":{"x2":{"field":"x2"}}},
{"data":{"values":[{"x":-42.5,"x2":42.5,"y":64}]},"mark":{"type":"rule","stroke":"#8fa3e0","strokeWidth":5,"opacity":0.55},"encoding":{"x2":{"field":"x2"}}},
{"data":{"values":[{"x":-22,"y":20},{"x":22,"y":20}]},"mark":{"type":"point","filled":false,"shape":"circle","size":11960,"stroke":"#ffc0cb","strokeWidth":1,"opacity":0.9}},
{"data":{"values":[{"x":-22,"y":20},{"x":22,"y":20}]},"mark":{"type":"point","filled":false,"shape":"circle","size":45,"stroke":"#ffc0cb","strokeWidth":1,"opacity":0.9}},
{"data":{"values":[{"x":-2.9,"x2":3,"y":-3.6,"y2":0}]},"mark":{"type":"rect","fill":"#808080","stroke":"#5a5a5a","strokeWidth":1},"encoding":{"x2":{"field":"x2"},"y2":{"field":"y2"}}},
{"data":{"name":"r"},"transform":[{"filter":"datum.k=='w'"}],"mark":{"type":"line","stroke":"#666666","strokeWidth":4},"encoding":{"order":{"value":null}}},
{"data":{"values":[{"x":-26,"x2":26,"y":67.2,"y2":86.1}]},"mark":{"type":"rect","fill":"white","stroke":"#8a8a8a","strokeWidth":1,"cornerRadius":4},"encoding":{"x2":{"field":"x2"},"y2":{"field":"y2"}}},
{"data":{"values":[{"x":0,"y":82.5,"t":"With Dermott"},{"x":0,"y":76.9,"t":"606 minutes"},{"x":0,"y":71.1,"t":"xGA/60: 2.20 (-14%)"}]},"mark":{"type":"text","fontSize":19.9,"color":"#111111","align":"center","baseline":"middle"},"encoding":{"text":{"field":"t"}}},
{"data":{"values":[{"x":2.4,"y":104.4,"t":"TOR 5v5 Defence"}]},"mark":{"type":"text","fontSize":38.8,"color":"black","align":"center","baseline":"alphabetic"},"encoding":{"text":{"field":"t"}}},
{"data":{"name":"sub"},"mark":{"type":"text","fontSize":11.5,"color":"#111111","align":"center","baseline":"middle"},"encoding":{"text":{"field":"t"}}}
]},
{"width":93,"height":415,"encoding":{"x":{"field":"a","type":"quantitative","scale":{"domain":[0,6.2],"nice":false,"zero":false},"axis":null},"y":{"field":"v","type":"quantitative","scale":{"domain":[-1.352,1.352],"nice":false,"zero":false},"axis":{"orient":"right","offset":-78,"labelPadding":5,"values":[1,0.7778,0.5556,0.3333,0.1111,-0.1111,-0.3333,-0.5556,-0.7778,-1],"format":"+.1f","labelFont":"DejaVu Sans Mono","labelFontSize":12.6,"title":null}}},
"layer":[
{"data":{"name":"bars"},"mark":{"type":"rect"},"encoding":{"x2":{"field":"b"},"y":{"field":"v0","type":"quantitative","scale":{"domain":[-1.352,1.352],"nice":false,"zero":false},"axis":{"orient":"right","offset":-78,"labelPadding":5,"values":[1,0.7778,0.5556,0.3333,0.1111,-0.1111,-0.3333,-0.5556,-0.7778,-1],"format":"+.1f","labelFont":"DejaVu Sans Mono","labelFontSize":12.6,"title":null}},"y2":{"field":"v1"},"fill":{"field":"l","type":"ordinal","legend":null,"scale":{"domain":[-9,-8,-7,-6,-5,-4,-3,-2,-1,0,1,2,3,4,5,6,7,8,9],"range":["#40007f","#300095","#2200b0","#1400cc","#0000ff","#2c2cff","#6060ff","#9c9cff","#c8c8ff","#ffffff","#ffc4c4","#ff8f8f","#ff5c5c","#ff2c2c","#ff0000","#cc0000","#b00000","#950000","#7f0000"]}}}},
{"data":{"name":"caps"},"mark":{"type":"line","interpolate":"linear-closed","stroke":null},"encoding":{"detail":{"field":"g"},"order":{"value":null},"fill":{"field":"l","type":"ordinal","legend":null}}},
{"data":{"name":"cbt"},"mark":{"type":"text","fontSize":10.5,"color":"#333333","align":"center","baseline":"middle"},"encoding":{"text":{"field":"t"}}},
{"data":{"values":[{"a":1.3,"v":-1.352}]},"mark":{"type":"point","filled":false,"shape":"circle","size":1735,"stroke":"#222222","strokeWidth":1}}
]},
{"width":350,"height":415,"encoding":{"x":{"field":"x","type":"quantitative","scale":{"domain":[-42.5,42.5],"nice":false,"zero":false},"axis":{"values":[-40,-30,-20,-10,0,10,20,30,40],"labelExpr":"abs(datum.value)","labelPadding":4,"title":"Distance from centre of rink (ft)"}},"y":{"field":"y","type":"quantitative","scale":{"domain":[-11,90],"nice":false,"zero":false},"axis":{"values":[0,10,20,30,40,50,60,70,80,90],"labelPadding":5,"titlePadding":5,"title":"Distance from goal line (ft)"}}},
"layer":[
{"data":{"name":"o"},"mark":{"type":"line","interpolate":"cardinal-closed","clip":true,"stroke":null},"encoding":{"detail":{"field":"g"},"order":{"value":null},"fill":{"field":"l","type":"ordinal","legend":null,"scale":{"domain":[-9,-8,-7,-6,-5,-4,-3,-2,-1,0,1,2,3,4,5,6,7,8,9],"range":["#40007f","#300095","#2200b0","#1400cc","#0000ff","#2c2cff","#6060ff","#9c9cff","#c8c8ff","#ffffff","#ffc4c4","#ff8f8f","#ff5c5c","#ff2c2c","#ff0000","#cc0000","#b00000","#950000","#7f0000"]}}}},
{"data":{"name":"o"},"transform":[{"filter":"datum.e==1"}],"mark":{"type":"line","interpolate":"cardinal","clip":true,"strokeWidth":1,"opacity":0.7},"encoding":{"detail":{"field":"g"},"order":{"value":null},"stroke":{"condition":{"test":"datum.l>0","value":"#7a1414"},"value":"#20208f"}}},
{"data":{"name":"r"},"transform":[{"filter":"indexof(['a','b','c'],datum.k)>=0"}],"mark":{"type":"line","interpolate":"linear-closed","clip":true,"stroke":null,"fill":"white"},"encoding":{"detail":{"field":"k"},"order":{"value":null}}},
{"data":{"name":"r"},"transform":[{"filter":"datum.k=='d'"}],"mark":{"type":"line","interpolate":"linear-closed","stroke":null,"fill":"#9fd0ff","opacity":0.5},"encoding":{"order":{"value":null}}},
{"data":{"values":[{"x":-35.5,"x2":35.5,"y":0}]},"mark":{"type":"rule","stroke":"#ffc0cb","strokeWidth":1.5,"opacity":0.8},"encoding":{"x2":{"field":"x2"}}},
{"data":{"values":[{"x":-42.5,"x2":42.5,"y":89}]},"mark":{"type":"rule","stroke":"#f4c2cc","strokeWidth":5},"encoding":{"x2":{"field":"x2"}}},
{"data":{"values":[{"x":-42.5,"x2":42.5,"y":64}]},"mark":{"type":"rule","stroke":"#8fa3e0","strokeWidth":5,"opacity":0.55},"encoding":{"x2":{"field":"x2"}}},
{"data":{"values":[{"x":-22,"y":20},{"x":22,"y":20}]},"mark":{"type":"point","filled":false,"shape":"circle","size":11960,"stroke":"#ffc0cb","strokeWidth":1,"opacity":0.9}},
{"data":{"values":[{"x":-22,"y":20},{"x":22,"y":20}]},"mark":{"type":"point","filled":false,"shape":"circle","size":45,"stroke":"#ffc0cb","strokeWidth":1,"opacity":0.9}},
{"data":{"values":[{"x":-2.9,"x2":3,"y":-3.6,"y2":0}]},"mark":{"type":"rect","fill":"#808080","stroke":"#5a5a5a","strokeWidth":1},"encoding":{"x2":{"field":"x2"},"y2":{"field":"y2"}}},
{"data":{"name":"r"},"transform":[{"filter":"datum.k=='w'"}],"mark":{"type":"line","stroke":"#666666","strokeWidth":4},"encoding":{"order":{"value":null}}},
{"data":{"values":[{"x":-24.5,"x2":24.4,"y":67.2,"y2":86.1}]},"mark":{"type":"rect","fill":"white","stroke":"#8a8a8a","strokeWidth":1,"cornerRadius":4},"encoding":{"x2":{"field":"x2"},"y2":{"field":"y2"}}},
{"data":{"values":[{"x":0,"y":82.5,"t":"Without Dermott"},{"x":0,"y":76.9,"t":"2448 minutes"},{"x":0,"y":71.1,"t":"xGA/60: 2.48 (-3%)"}]},"mark":{"type":"text","fontSize":19.9,"color":"#111111","align":"center","baseline":"middle"},"encoding":{"text":{"field":"t"}}},
{"data":{"values":[{"x":2.3,"y":104.4,"t":"TOR 5v5 Defence"}]},"mark":{"type":"text","fontSize":38.8,"color":"black","align":"center","baseline":"alphabetic"},"encoding":{"text":{"field":"t"}}},
{"data":{"name":"sub"},"mark":{"type":"text","fontSize":11.5,"color":"#111111","align":"center","baseline":"middle"},"encoding":{"text":{"field":"t"}}}
]},
{"width":93,"height":415,"encoding":{"x":{"field":"a","type":"quantitative","scale":{"domain":[0,6.2],"nice":false,"zero":false},"axis":null},"y":{"field":"v","type":"quantitative","scale":{"domain":[-1.352,1.352],"nice":false,"zero":false},"axis":{"orient":"right","offset":-78,"labelPadding":5,"values":[1,0.7778,0.5556,0.3333,0.1111,-0.1111,-0.3333,-0.5556,-0.7778,-1],"format":"+.1f","labelFont":"DejaVu Sans Mono","labelFontSize":12.6,"title":null}}},
"layer":[
{"data":{"name":"bars"},"mark":{"type":"rect"},"encoding":{"x2":{"field":"b"},"y":{"field":"v0","type":"quantitative","scale":{"domain":[-1.352,1.352],"nice":false,"zero":false},"axis":{"orient":"right","offset":-78,"labelPadding":5,"values":[1,0.7778,0.5556,0.3333,0.1111,-0.1111,-0.3333,-0.5556,-0.7778,-1],"format":"+.1f","labelFont":"DejaVu Sans Mono","labelFontSize":12.6,"title":null}},"y2":{"field":"v1"},"fill":{"field":"l","type":"ordinal","legend":null,"scale":{"domain":[-9,-8,-7,-6,-5,-4,-3,-2,-1,0,1,2,3,4,5,6,7,8,9],"range":["#40007f","#300095","#2200b0","#1400cc","#0000ff","#2c2cff","#6060ff","#9c9cff","#c8c8ff","#ffffff","#ffc4c4","#ff8f8f","#ff5c5c","#ff2c2c","#ff0000","#cc0000","#b00000","#950000","#7f0000"]}}}},
{"data":{"name":"caps"},"mark":{"type":"line","interpolate":"linear-closed","stroke":null},"encoding":{"detail":{"field":"g"},"order":{"value":null},"fill":{"field":"l","type":"ordinal","legend":null}}},
{"data":{"name":"cbt"},"mark":{"type":"text","fontSize":10.5,"color":"#333333","align":"center","baseline":"middle"},"encoding":{"text":{"field":"t"}}},
{"data":{"values":[{"a":1.3,"v":-1.352}]},"mark":{"type":"point","filled":false,"shape":"circle","size":1735,"stroke":"#222222","strokeWidth":1}}
]}
]}
